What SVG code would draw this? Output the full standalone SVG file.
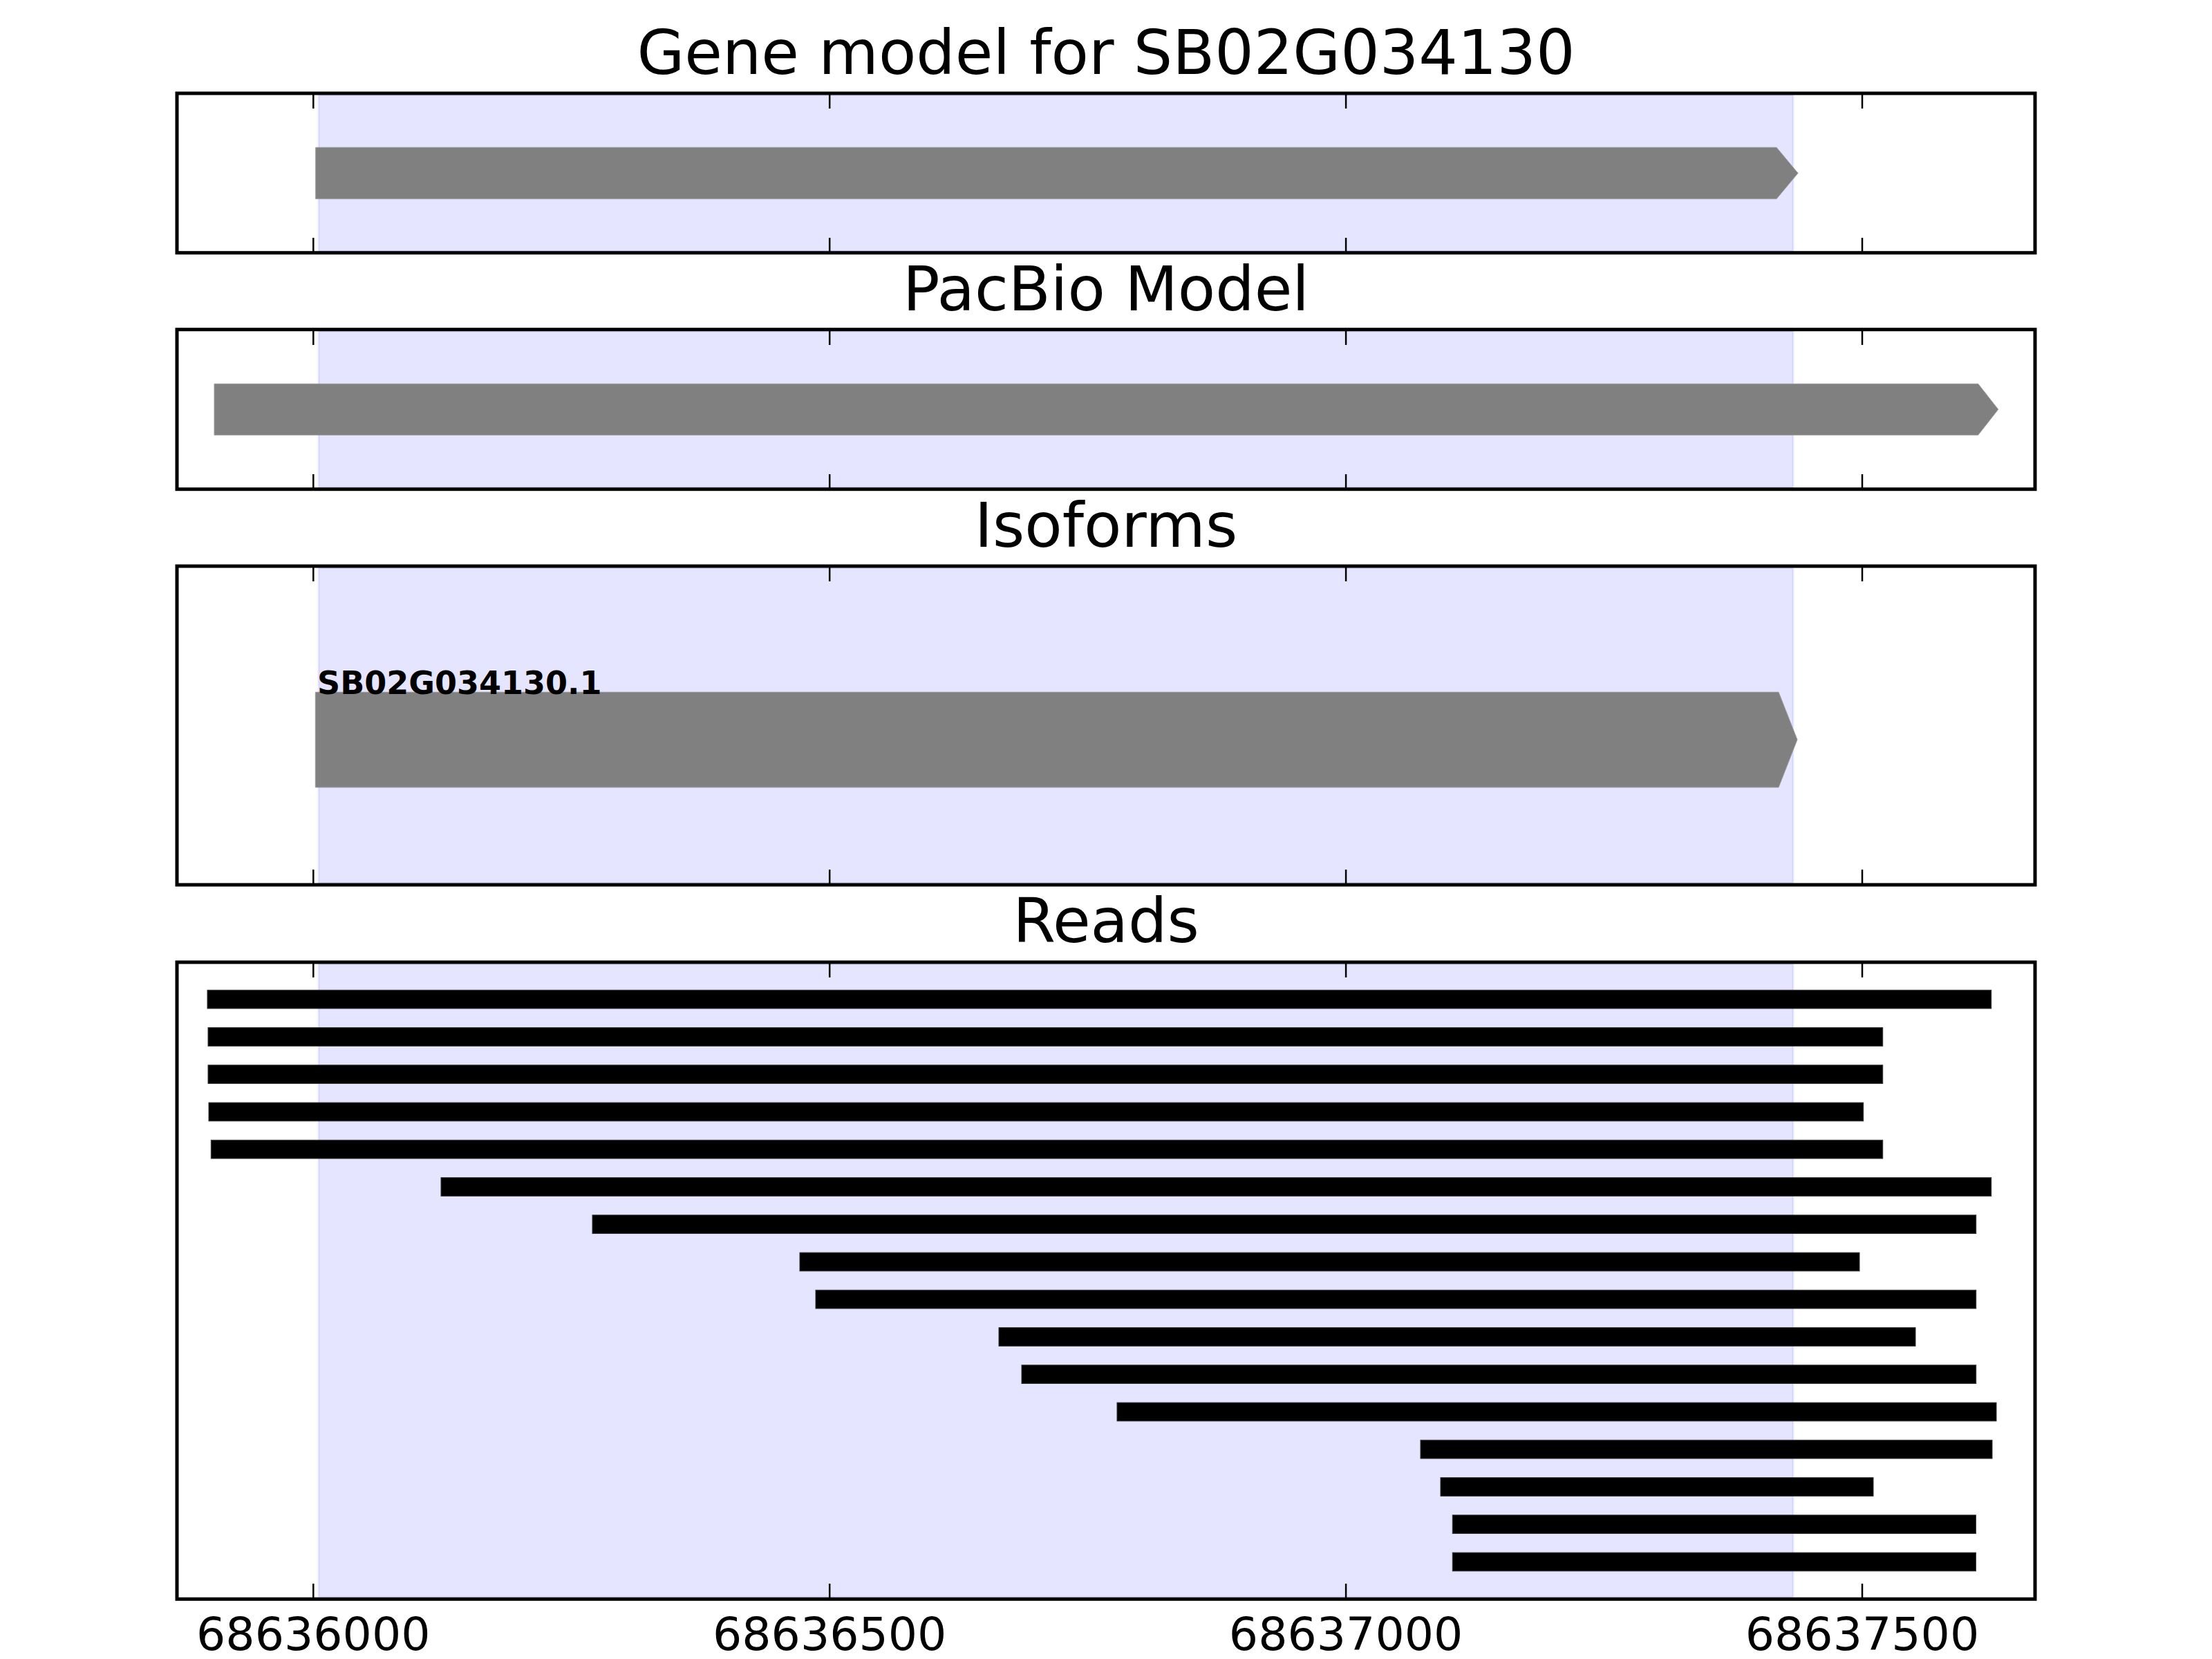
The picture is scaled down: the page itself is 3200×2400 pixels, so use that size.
<svg xmlns="http://www.w3.org/2000/svg" width="3200" height="2400" viewBox="0 0 3200 2400">
<style>
.title{font-family:"DejaVu Sans","Liberation Sans",sans-serif;font-size:88.9px;text-anchor:middle;fill:#000}
.tick{font-family:"DejaVu Sans","Liberation Sans",sans-serif;font-size:66.5px;text-anchor:middle;fill:#000}
.iso{font-family:"DejaVu Sans","Liberation Sans",sans-serif;font-size:46px;font-weight:bold;fill:#000}
.frame{fill:none;stroke:#000;stroke-width:5}
.span{fill:#0000ff;fill-opacity:0.1;stroke:#0000ff;stroke-opacity:0.08;stroke-width:3}
.gene{fill:#808080;stroke:#999;stroke-width:1}
.read{fill:#000;stroke:#333;stroke-width:1}
.tk{stroke:#000;stroke-width:2.5}
</style>
<rect width="3200" height="2400" fill="#fff"/>

<g id="panel-gene">
<text class="title" x="1600" y="107">Gene model for SB02G034130</text>
<rect class="span" x="461" y="137.5" width="2133" height="226"/>
<polygon class="gene" points="456.7,213.3 2570,213.3 2601,250.5 2570,287.7 456.7,287.7"/>
<g class="tk"><line x1="453.3" y1="137" x2="453.3" y2="157"/><line x1="1200.2" y1="137" x2="1200.2" y2="157"/><line x1="1947.1" y1="137" x2="1947.1" y2="157"/><line x1="2694" y1="137" x2="2694" y2="157"/>
<line x1="453.3" y1="364" x2="453.3" y2="344"/><line x1="1200.2" y1="364" x2="1200.2" y2="344"/><line x1="1947.1" y1="364" x2="1947.1" y2="344"/><line x1="2694" y1="364" x2="2694" y2="344"/></g>
<rect class="frame" x="256" y="135" width="2688" height="230.7"/>
</g>

<g id="panel-pacbio">
<text class="title" x="1600" y="448.7">PacBio Model</text>
<rect class="span" x="461" y="479" width="2133" height="226"/>
<polygon class="gene" points="310,555.3 2861.7,555.3 2890.7,592.3 2861.7,629.3 310,629.3"/>
<g class="tk"><line x1="453.3" y1="479" x2="453.3" y2="499"/><line x1="1200.2" y1="479" x2="1200.2" y2="499"/><line x1="1947.1" y1="479" x2="1947.1" y2="499"/><line x1="2694" y1="479" x2="2694" y2="499"/>
<line x1="453.3" y1="706" x2="453.3" y2="686"/><line x1="1200.2" y1="706" x2="1200.2" y2="686"/><line x1="1947.1" y1="706" x2="1947.1" y2="686"/><line x1="2694" y1="706" x2="2694" y2="686"/></g>
<rect class="frame" x="256" y="476.7" width="2688" height="231"/>
</g>

<g id="panel-isoforms">
<text class="title" x="1600" y="791">Isoforms</text>
<rect class="span" x="461" y="821.5" width="2133" height="456"/>
<polygon class="gene" points="456.3,1001.3 2573,1001.3 2600,1070 2573,1139 456.3,1139"/>
<text class="iso" x="459" y="1004">SB02G034130.1</text>
<g class="tk"><line x1="453.3" y1="821" x2="453.3" y2="841"/><line x1="1200.2" y1="821" x2="1200.2" y2="841"/><line x1="1947.1" y1="821" x2="1947.1" y2="841"/><line x1="2694" y1="821" x2="2694" y2="841"/>
<line x1="453.3" y1="1278" x2="453.3" y2="1258"/><line x1="1200.2" y1="1278" x2="1200.2" y2="1258"/><line x1="1947.1" y1="1278" x2="1947.1" y2="1258"/><line x1="2694" y1="1278" x2="2694" y2="1258"/></g>
<rect class="frame" x="256" y="819" width="2688" height="461"/>
</g>

<g id="panel-reads">
<text class="title" x="1600" y="1363.3">Reads</text>
<rect class="span" x="461" y="1394.5" width="2133" height="916"/>
<g id="reads">
<rect class="read" x="300" y="1432.3" width="2580.7" height="26.7"/>
<rect class="read" x="301" y="1486.6" width="2422.7" height="26.7"/>
<rect class="read" x="301" y="1540.8" width="2422.7" height="26.7"/>
<rect class="read" x="302" y="1595.1" width="2393.7" height="26.7"/>
<rect class="read" x="305.3" y="1649.3" width="2418.4" height="26.7"/>
<rect class="read" x="638" y="1703.6" width="2242.7" height="26.7"/>
<rect class="read" x="857" y="1757.8" width="2001.7" height="26.7"/>
<rect class="read" x="1157" y="1812.1" width="1533" height="26.7"/>
<rect class="read" x="1180" y="1866.3" width="1678.7" height="26.7"/>
<rect class="read" x="1445" y="1920.6" width="1326" height="26.7"/>
<rect class="read" x="1478" y="1974.8" width="1380.7" height="26.7"/>
<rect class="read" x="1616" y="2029.1" width="1272" height="26.7"/>
<rect class="read" x="2055" y="2083.3" width="827" height="26.7"/>
<rect class="read" x="2084" y="2137.6" width="626" height="26.7"/>
<rect class="read" x="2101.3" y="2191.8" width="757.1" height="26.7"/>
<rect class="read" x="2101.3" y="2246.1" width="757.1" height="26.7"/>
</g>
<g class="tk"><line x1="453.3" y1="1394" x2="453.3" y2="1414"/><line x1="1200.2" y1="1394" x2="1200.2" y2="1414"/><line x1="1947.1" y1="1394" x2="1947.1" y2="1414"/><line x1="2694" y1="1394" x2="2694" y2="1414"/>
<line x1="453.3" y1="2311" x2="453.3" y2="2291"/><line x1="1200.2" y1="2311" x2="1200.2" y2="2291"/><line x1="1947.1" y1="2311" x2="1947.1" y2="2291"/><line x1="2694" y1="2311" x2="2694" y2="2291"/></g>
<rect class="frame" x="256" y="1392" width="2688" height="921.3"/>
<text class="tick" x="453.3" y="2386.7">68636000</text>
<text class="tick" x="1200.2" y="2386.7">68636500</text>
<text class="tick" x="1947.1" y="2386.7">68637000</text>
<text class="tick" x="2694" y="2386.7">68637500</text>
</g>
</svg>
